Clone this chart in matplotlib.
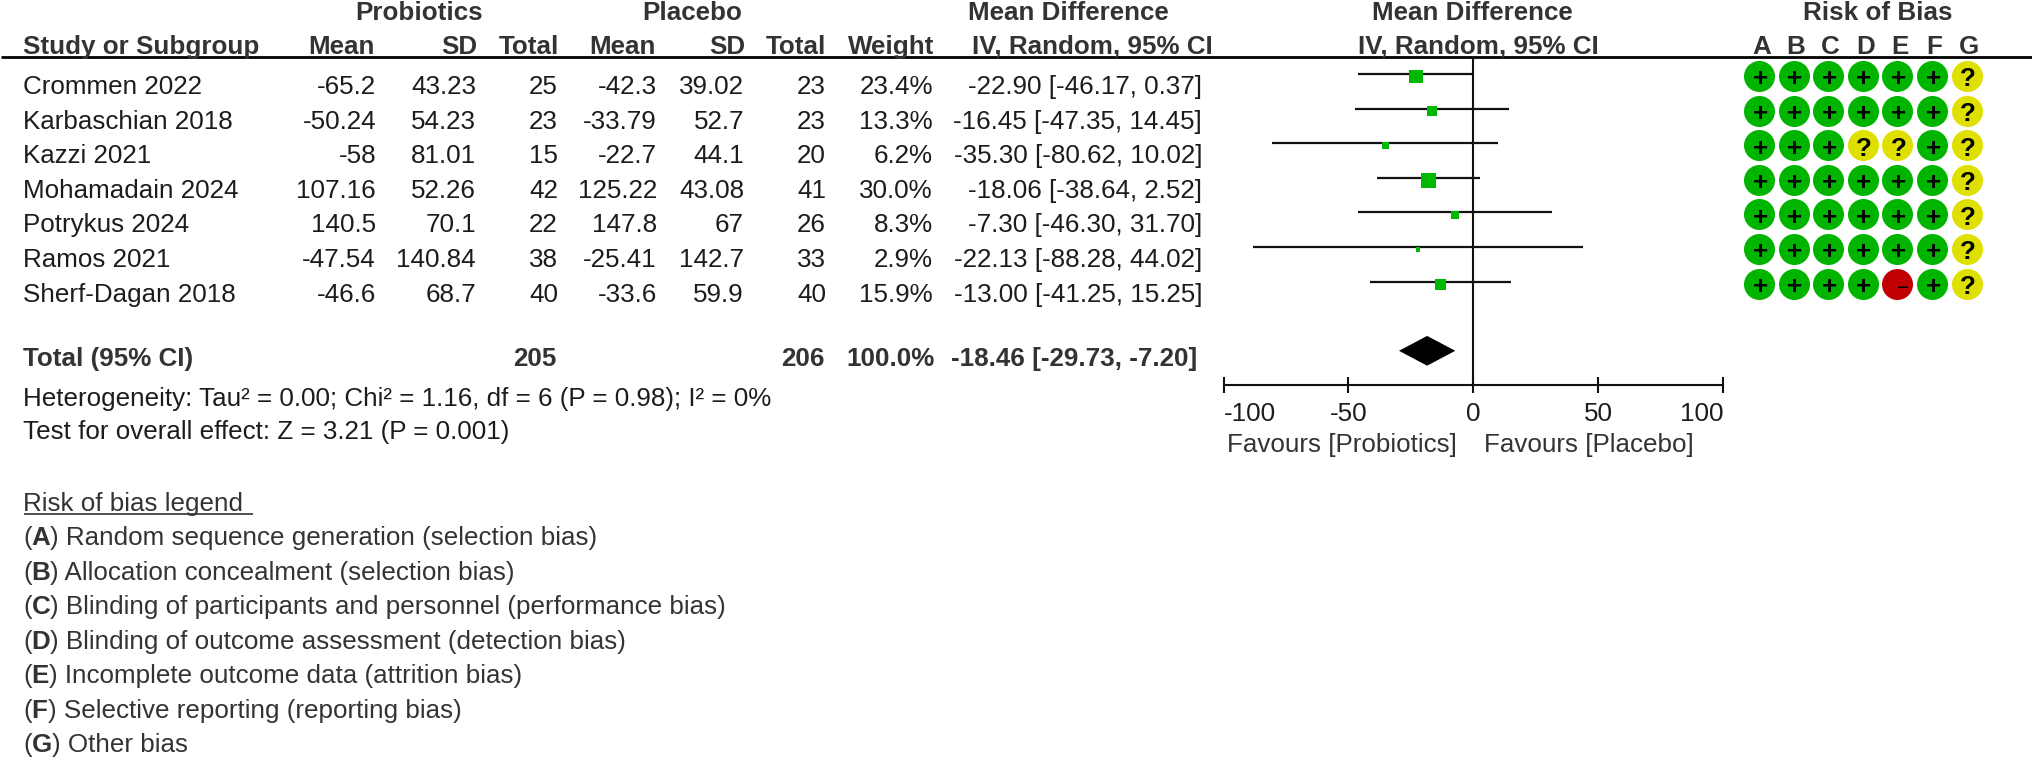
import numpy as np
import matplotlib
matplotlib.use("Agg")
import matplotlib.pyplot as plt

# Data
studies = ["Crommen 2022", "Karbaschian 2018", "Kazzi 2021", "Mohamadain 2024",
           "Potrykus 2024", "Ramos 2021", "Sherf-Dagan 2018"]
pro_mean = [-65.2, -50.24, -58, 107.16, 140.5, -47.54, -46.6]
pro_sd = [43.23, 54.23, 81.01, 52.26, 70.1, 140.84, 68.7]
pro_n = [25, 23, 15, 42, 22, 38, 40]
pla_mean = [-42.3, -33.79, -22.7, 125.22, 147.8, -25.41, -33.6]
pla_sd = [39.02, 52.7, 44.1, 43.08, 67, 142.7, 59.9]
pla_n = [23, 23, 20, 41, 26, 33, 40]
weights = [23.4, 13.3, 6.2, 30.0, 8.3, 2.9, 15.9]
md = [-22.90, -16.45, -35.30, -18.06, -7.30, -22.13, -13.00]
ci_lo = [-46.17, -47.35, -80.62, -38.64, -46.30, -88.28, -41.25]
ci_hi = [0.37, 14.45, 10.02, 2.52, 31.70, 44.02, 15.25]
total_md = -18.46
total_lo = -29.73
total_hi = -7.20
total_pro = 205
total_pla = 206
total_weight = 100.0
axis_ticks = [-100, -50, 0, 50, 100]
rob_cols = ["A", "B", "C", "D", "E", "F", "G"]
rob = ["++++++?", "++++++?", "+++??+?", "++++++?", "++++++?", "++++++?", "++++-+?"]
legend_items = [("A", "Random sequence generation (selection bias)"),
                ("B", "Allocation concealment (selection bias)"),
                ("C", "Blinding of participants and personnel (performance bias)"),
                ("D", "Blinding of outcome assessment (detection bias)"),
                ("E", "Incomplete outcome data (attrition bias)"),
                ("F", "Selective reporting (reporting bias)"),
                ("G", "Other bias")]

W, H = 2032, 760
ROW = 34.6
FS = 18.7
DARK = "#1c1c1c"
BOLD = "#333333"
GREEN = "#00b800"
rob_colors = {"+": "#00b400", "?": "#e0e000", "-": "#c00000"}

plt.rcParams["font.family"] = ["Liberation Sans", "DejaVu Sans"]
fig = plt.figure(figsize=(W / 100, H / 100), dpi=100)


def px_axes(x0, y0, x1, y1):
    # axes placed by pixel box, y measured from the top of the image
    return fig.add_axes([x0 / W, 1 - y1 / H, (x1 - x0) / W, (y1 - y0) / H])


# Table text, pixel layout
ax = px_axes(0, 0, W, H)
ax.set_xlim(0, W)
ax.set_ylim(H, 0)
ax.axis("off")
ax.plot([1, W], [57, 57], color="black", lw=2.0, solid_capstyle="butt")


def label(x, y, s, ha="left", bold=False, color=None):
    return ax.text(x, y, s, ha=ha, va="baseline", fontsize=FS,
                   fontweight="bold" if bold else "normal",
                   color=color or (BOLD if bold else DARK))


label(419, 20, "Probiotics", "center", True)
label(692, 20, "Placebo", "center", True)
label(1068, 20, "Mean Difference", "center", True)
label(1472, 20, "Mean Difference", "center", True)
label(1878, 20, "Risk of Bias", "center", True)

label(23, 54, "Study or Subgroup", bold=True)
for x, s in [(375, "Mean"), (477, "SD"), (559, "Total"), (656, "Mean"),
             (745, "SD"), (826, "Total"), (934, "Weight")]:
    label(x, 54, s, "right", True)
label(1092, 54, "IV, Random, 95% CI", "center", True)
label(1478, 54, "IV, Random, 95% CI", "center", True)

for i, name in enumerate(studies):
    y = 94 + ROW * i
    label(23, y, name)
    label(376, y, str(pro_mean[i]), "right")
    label(476, y, str(pro_sd[i]), "right")
    label(558, y, str(pro_n[i]), "right")
    label(657, y, str(pla_mean[i]), "right")
    label(744, y, str(pla_sd[i]), "right")
    label(826, y, str(pla_n[i]), "right")
    label(933, y, f"{weights[i]:.1f}%", "right")
    label(1202, y, f"{md[i]:.2f} [{ci_lo[i]:.2f}, {ci_hi[i]:.2f}]", "right")

label(23, 366, "Total (95% CI)", bold=True)
label(556, 366, str(total_pro), "right", True)
label(825, 366, str(total_pla), "right", True)
label(935, 366, f"{total_weight:.1f}%", "right", True)
label(1197, 366, f"{total_md:.2f} [{total_lo:.2f}, {total_hi:.2f}]", "right", True)

label(23, 406, "Heterogeneity: Tau² = 0.00; Chi² = 1.16, df = 6 (P = 0.98); I² = 0%")
label(23, 439, "Test for overall effect: Z = 3.21 (P = 0.001)")

label(23, 511, "Risk of bias legend", color="#333333")
ax.plot([24, 253], [514, 514], color="#333333", lw=1.2, solid_capstyle="butt")

# Legend lines mix bold letter with plain text, so place each piece after the last
renderer = fig.canvas.get_renderer()
for i, (letter, desc) in enumerate(legend_items):
    y = 545 + 34.55 * i
    x = 23
    for s, b in [("(", False), (letter, True), (") " + desc, False)]:
        t = label(x, y, s, bold=b, color="#333333")
        x = ax.transData.inverted().transform(t.get_window_extent(renderer))[1, 0]

label(1457, 452, "Favours [Probiotics]", "right", color="#333333")
label(1484, 452, "Favours [Placebo]", color="#333333")

# Forest plot
fx = px_axes(1223.5, 57, 1723, 385)
fx.patch.set_alpha(0)
fx.set_xlim(-100, 100)
fx.set_ylim((385 - 74) / ROW, (57 - 74) / ROW)
for s in ["top", "left", "right"]:
    fx.spines[s].set_visible(False)
fx.spines["bottom"].set_linewidth(1.5)
fx.spines["bottom"].set_color("#111111")
fx.set_yticks([])
fx.set_xticks(axis_ticks)
fx.set_xticklabels([str(v) for v in axis_ticks], fontsize=FS, color=DARK)
fx.tick_params(axis="x", direction="inout", length=11.5, width=1.5, pad=6.5, color="#111111")
labs = fx.get_xticklabels()
labs[0].set_ha("left")
labs[-1].set_ha("right")

fx.axvline(0, color="#111111", lw=1.5, zorder=1)
rows = np.arange(len(studies))
fx.hlines(rows, ci_lo, ci_hi, color="#111111", lw=1.6, zorder=2)
sides = 2.75 * np.sqrt(weights) * 0.72  # side in points follows study weight
fx.scatter(md, rows + 0.07, marker="s", s=sides ** 2, color=GREEN, linewidths=0, zorder=3)
fx.fill([total_lo, total_md, total_hi, total_md],
        [8, 8 - 0.43, 8, 8 + 0.43], color="black", lw=0, zorder=3)

# Risk of bias grid
rx = px_axes(1759 - 0.6 * ROW, 57, 1759 + 6.6 * ROW, 57 + 7.5 * ROW)
rx.patch.set_alpha(0)
rx.set_xlim(-0.6, 6.6)
rx.set_ylim(6.95, -0.55)
for s in rx.spines.values():
    s.set_visible(False)
rx.set_yticks([])
rx.set_xticks(np.arange(len(rob_cols)) + 0.07)
rx.set_xticklabels(rob_cols, fontsize=FS, fontweight="bold", color=BOLD)
rx.tick_params(axis="x", length=0, top=False, bottom=False, labeltop=True, labelbottom=False, pad=2)
for t in rx.get_xticklabels():
    t.set_va("baseline")

for r, line in enumerate(rob):
    for c, v in enumerate(line):
        rx.scatter(c, r, s=(31 * 0.72) ** 2, color=rob_colors[v], linewidths=0, zorder=2)
        if v == "-":
            rx.text(c + 0.17, r + 0.30, "\u2212", ha="center", va="baseline",
                    fontsize=FS * 0.8, color="black", zorder=3)
        else:
            rx.text(c + 0.03, r + 0.30, v, ha="center", va="baseline", fontsize=FS,
                    fontweight="bold", color="black", zorder=3)

fig.savefig("out.png", dpi=100)
